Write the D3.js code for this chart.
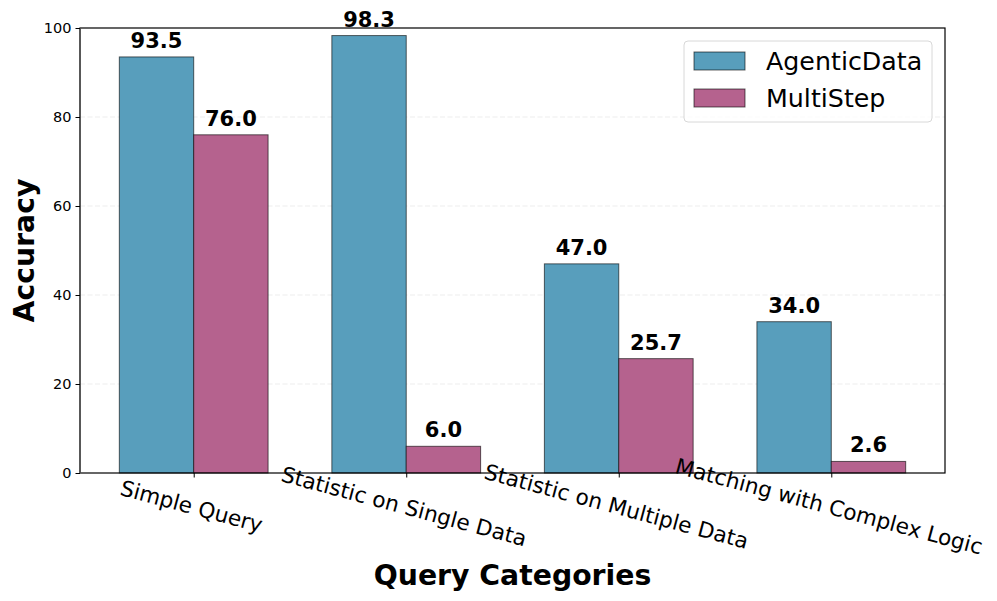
<!DOCTYPE html>
<html><head><meta charset="utf-8">
<script src="https://cdn.jsdelivr.net/npm/d3@7"></script>
<style>body{margin:0;background:#fff;font-family:"DejaVu Sans",sans-serif;}</style>
</head><body>
<svg id="c" width="997" height="601"></svg>
<script>
const categories = ["Simple Query","Statistic on Single Data","Statistic on Multiple Data","Matching with Complex Logic"];
const seriesNames = ["AgenticData","MultiStep"];
const agenticData = [93.5, 98.3, 47.0, 34.0];
const multiStep = [76.0, 6.0, 25.7, 2.6];
const yTicks = [0,20,40,60,80,100];
const colors = ["#589ebc","#b5628e"];

const svg = d3.select("#c");
const L=80, R=945, T=28, B=473;
const x = d3.scaleLinear().domain([-0.535, 3.535]).range([L,R]);
const y = d3.scaleLinear().domain([0,100]).range([B,T]);
const bw = 0.35;

// grid
svg.append("g").selectAll("line").data(yTicks.filter(d=>d>0&&d<100)).join("line")
  .attr("x1",L).attr("x2",R).attr("y1",d=>y(d)).attr("y2",d=>y(d))
  .attr("stroke","#b0b0b0").attr("stroke-opacity",0.3).attr("stroke-dasharray","5,2.5").attr("stroke-width",0.8);

const series = [agenticData, multiStep];
series.forEach((vals,si)=>{
  const off = si===0 ? -bw/2 : bw/2;
  const g = svg.append("g");
  g.selectAll("rect").data(vals).join("rect")
    .attr("x",(d,i)=>x(i+off-bw/2)).attr("width",x(bw)-x(0))
    .attr("y",d=>y(d)).attr("height",d=>y(0)-y(d))
    .attr("fill",colors[si]).attr("stroke","#000").attr("stroke-opacity",0.6).attr("stroke-width",1);
  g.selectAll("text").data(vals).join("text")
    .attr("x",(d,i)=>x(i+off)).attr("y",d=>y(d)-9)
    .attr("text-anchor","middle").attr("font-weight","bold").attr("font-size","21px")
    .text(d=>d.toFixed(1));
});

// frame
svg.append("rect").attr("x",L).attr("y",T).attr("width",R-L).attr("height",B-T)
  .attr("fill","none").attr("stroke","#000").attr("stroke-width",1.2);
svg.append("line").attr("x1",L).attr("x2",L).attr("y1",T).attr("y2",B).attr("stroke","#555").attr("stroke-width",1.6);

// y axis
const ya = svg.append("g").attr("transform",`translate(${L},0)`)
  .call(d3.axisLeft(y).tickValues(yTicks).tickSize(4.5).tickPadding(4));
ya.select(".domain").remove();
ya.selectAll("text").attr("font-size","14.5px").attr("font-family","DejaVu Sans").attr("fill","#000");
ya.selectAll("line").attr("stroke","#000");

// x axis
const xa = svg.append("g").attr("transform",`translate(0,${B})`)
  .call(d3.axisBottom(x).tickValues([0,1,2,3]).tickSize(4.5).tickFormat(""));
xa.select(".domain").remove();
xa.selectAll("line").attr("stroke","#000");
svg.append("g").selectAll("text").data(categories).join("text")
  .attr("transform",(d,i)=>`translate(${x(i)},${B+25}) rotate(15)`)
  .attr("text-anchor","middle").attr("dy","0.75em")
  .attr("font-size","21.6px").attr("fill","#000").text(d=>d);

// axis titles
svg.append("text").attr("x",(L+R)/2).attr("y",585).attr("text-anchor","middle")
  .attr("font-weight","bold").attr("font-size","28.3px").text("Query Categories");
svg.append("text").attr("transform",`translate(34,${(T+B)/2}) rotate(-90)`).attr("text-anchor","middle")
  .attr("font-weight","bold").attr("font-size","28.3px").text("Accuracy");

// legend
const lg = svg.append("g");
lg.append("rect").attr("x",684).attr("y",41).attr("width",248).attr("height",81).attr("rx",4)
  .attr("fill","#fff").attr("fill-opacity",0.8).attr("stroke","#d8d8d8");
seriesNames.forEach((n,i)=>{
  lg.append("rect").attr("x",694).attr("y",52+i*37).attr("width",51).attr("height",18)
    .attr("fill",colors[i]).attr("stroke","#000").attr("stroke-opacity",0.6);
  lg.append("text").attr("x",766).attr("y",70+i*37).attr("font-size","25.3px").text(n);
});
</script>
</body></html>
